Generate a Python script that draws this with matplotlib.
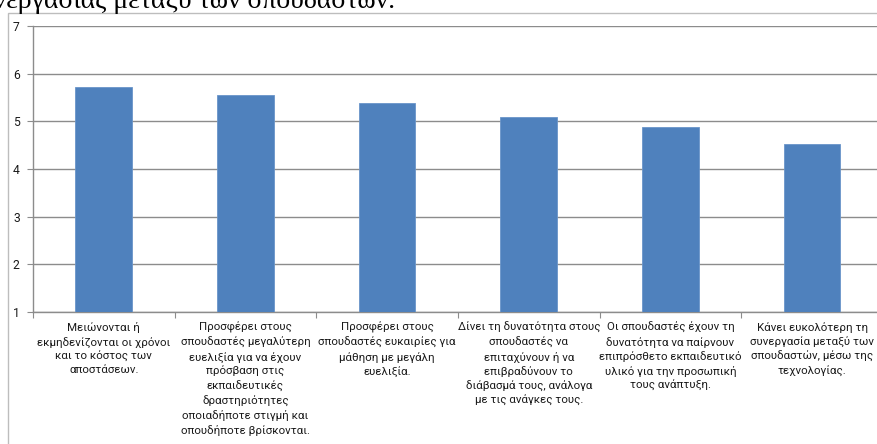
import matplotlib
matplotlib.use("Agg")
import matplotlib.pyplot as plt
from matplotlib.patches import Rectangle

categories = [
    "Μειώνονται ή\nεκμηδενίζονται οι χρόνοι\nκαι το κόστος των\nαποστάσεων.",
    "Προσφέρει στους\nσπουδαστές μεγαλύτερη\nευελιξία για να έχουν\nπρόσβαση στις\nεκπαιδευτικές\nδραστηριότητες\nοποιαδήποτε στιγμή και\nοπουδήποτε βρίσκονται.",
    "Προσφέρει στους\nσπουδαστές ευκαιρίες για\nμάθηση με μεγάλη\nευελιξία.",
    "Δίνει τη δυνατότητα στους\nσπουδαστές να\nεπιταχύνουν ή να\nεπιβραδύνουν το\nδιάβασμά τους, ανάλογα\nμε τις ανάγκες τους.",
    "Οι σπουδαστές έχουν τη\nδυνατότητα να παίρνουν\nεπιπρόσθετο εκπαιδευτικό\nυλικό για την προσωπική\nτους ανάπτυξη.",
    "Κάνει ευκολότερη τη\nσυνεργασία μεταξύ των\nσπουδαστών, μέσω της\nτεχνολογίας.",
]
values = [5.72, 5.56, 5.39, 5.09, 4.89, 4.52]
y_ticks = [1, 2, 3, 4, 5, 6, 7]
title_fragment = "συνεργασίας μεταξύ των σπουδαστών."

W, H = 878, 444
fig = plt.figure(figsize=(W / 100, H / 100), dpi=100)

# outer chart border (cut by image edges)
fig.patches.append(Rectangle((8 / W, -0.1), 1.2, (H - 13) / H + 0.1,
                             transform=fig.transFigure, fill=False,
                             edgecolor="#BDBDBD", linewidth=1.0))

ax_left, ax_right = 33, 883
ax_top, ax_bottom = 26.3, 311.7
ax = fig.add_axes([ax_left / W, 1 - ax_bottom / H,
                   (ax_right - ax_left) / W, (ax_bottom - ax_top) / H])

x = list(range(len(values)))
ax.bar(x, values, width=0.4, bottom=0, color="#4F81BD", zorder=3,
       edgecolor="#6A95C9", linewidth=0.6)
ax.set_xlim(-0.5, len(values) - 0.5)
ax.set_ylim(1, 7)
ax.set_yticks(y_ticks)
ax.yaxis.grid(True, color="#8C8C8C", linewidth=1.0, zorder=0)
ax.set_axisbelow(True)

for s in ["top", "right"]:
    ax.spines[s].set_visible(False)
for s in ["left", "bottom"]:
    ax.spines[s].set_color("#8C8C8C")
    ax.spines[s].set_linewidth(1.0)

# major ticks at category boundaries, labels at centers
ax.set_xticks([i - 0.5 for i in range(len(values) + 1)])
ax.set_xticklabels([])
ax.set_xticks(x, minor=True)
ax.set_xticklabels(categories, minor=True, fontsize=8.25, family=["Roboto", "DejaVu Sans"],
                   color="#1a1a1a", linespacing=1.4, va="top")
ax.tick_params(axis="x", which="major", length=4, color="#8C8C8C", direction="out")
ax.tick_params(axis="x", which="minor", length=0, pad=7.5)
ax.tick_params(axis="y", length=4, color="#8C8C8C", pad=5.5, labelsize=8.7,
               labelcolor="#1a1a1a")
for lab in ax.get_yticklabels():
    lab.set_family(["Roboto", "DejaVu Sans"])

fig.text(395 / W, 1 - 8.5 / H, title_fragment, ha="right", va="baseline",
         fontsize=20, family=["Liberation Serif", "DejaVu Serif"], color="#000000")

fig.savefig("out.png", dpi=100)
